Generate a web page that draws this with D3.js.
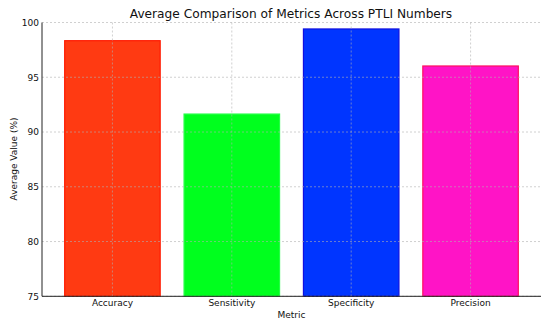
<!DOCTYPE html>
<html><head><meta charset="utf-8">
<script src="https://cdn.jsdelivr.net/npm/d3@7"></script>
<style>body{margin:0;background:#fff}svg{display:block}text{font-family:"DejaVu Sans",sans-serif}</style>
</head><body>
<svg id="c" width="550" height="326"></svg>
<script>
const categories = ["Accuracy", "Sensitivity", "Specificity", "Precision"];
const values = [98.34, 91.64, 99.41, 96.03];
const fills = ["#ff3a12", "#00ff1e", "#0035ff", "#ff14c6"];
const edges = ["#ff1a00", "#22ff44", "#1010e0", "#ff1060"];
const yTicks = [75, 80, 85, 90, 95, 100];

(function () {
const svg = d3.select("#c");
const pl = 42, pr = 541, pt = 22.5, pb = 296.3;
const x = d3.scaleBand().domain(categories).range([pl, pr]).paddingInner(0.2).paddingOuter(0.19);
const y = d3.scaleLinear().domain([75, 100]).range([pb, pt]);

svg.append("g").selectAll("rect").data(categories).join("rect")
  .attr("x", d => x(d)).attr("width", x.bandwidth())
  .attr("y", (d, i) => y(values[i])).attr("height", (d, i) => pb - y(values[i]))
  .attr("fill", (d, i) => fills[i]).attr("stroke", (d, i) => edges[i]).attr("stroke-width", 1.2);

const grid = svg.append("g").attr("stroke", "#b0b0b0").attr("stroke-opacity", 0.75).attr("stroke-width", 0.8).attr("stroke-dasharray", "2,2");
grid.selectAll(".gy").data(yTicks).join("line").attr("x1", pl).attr("x2", pr).attr("y1", d => y(d)).attr("y2", d => y(d));
grid.selectAll(".gx").data(categories).join("line").attr("x1", d => x(d) + x.bandwidth() / 2).attr("x2", d => x(d) + x.bandwidth() / 2).attr("y1", pt).attr("y2", pb);

const ya = svg.append("g").attr("transform", `translate(${pl},0)`).call(d3.axisLeft(y).tickValues(yTicks).tickSize(0).tickPadding(3));
const xa = svg.append("g").attr("transform", `translate(0,${pb})`).call(d3.axisBottom(x).tickSize(0).tickPadding(3));
[ya, xa].forEach(a => {
  a.select(".domain").attr("stroke", "#222").attr("stroke-width", 1);
  a.selectAll(".tick line").attr("stroke", "#222");
  a.selectAll(".tick text").attr("font-size", 9).attr("fill", "#111").style("font-family", "DejaVu Sans");
});
ya.select(".domain").attr("d", `M0,${pb}V${pt}`);
xa.select(".domain").attr("d", `M${pl},0H${pr}`);

svg.append("text").attr("x", 291).attr("y", 18).attr("text-anchor", "middle").attr("font-size", 12.2).attr("fill", "#111").text("Average Comparison of Metrics Across PTLI Numbers");
svg.append("text").attr("x", (pl + pr) / 2).attr("y", 318).attr("text-anchor", "middle").attr("font-size", 9).attr("fill", "#111").text("Metric");
svg.append("text").attr("transform", `translate(17,159) rotate(-90)`).attr("text-anchor", "middle").attr("font-size", 9).attr("fill", "#111").text("Average Value (%)");
})();
</script>
</body></html>
